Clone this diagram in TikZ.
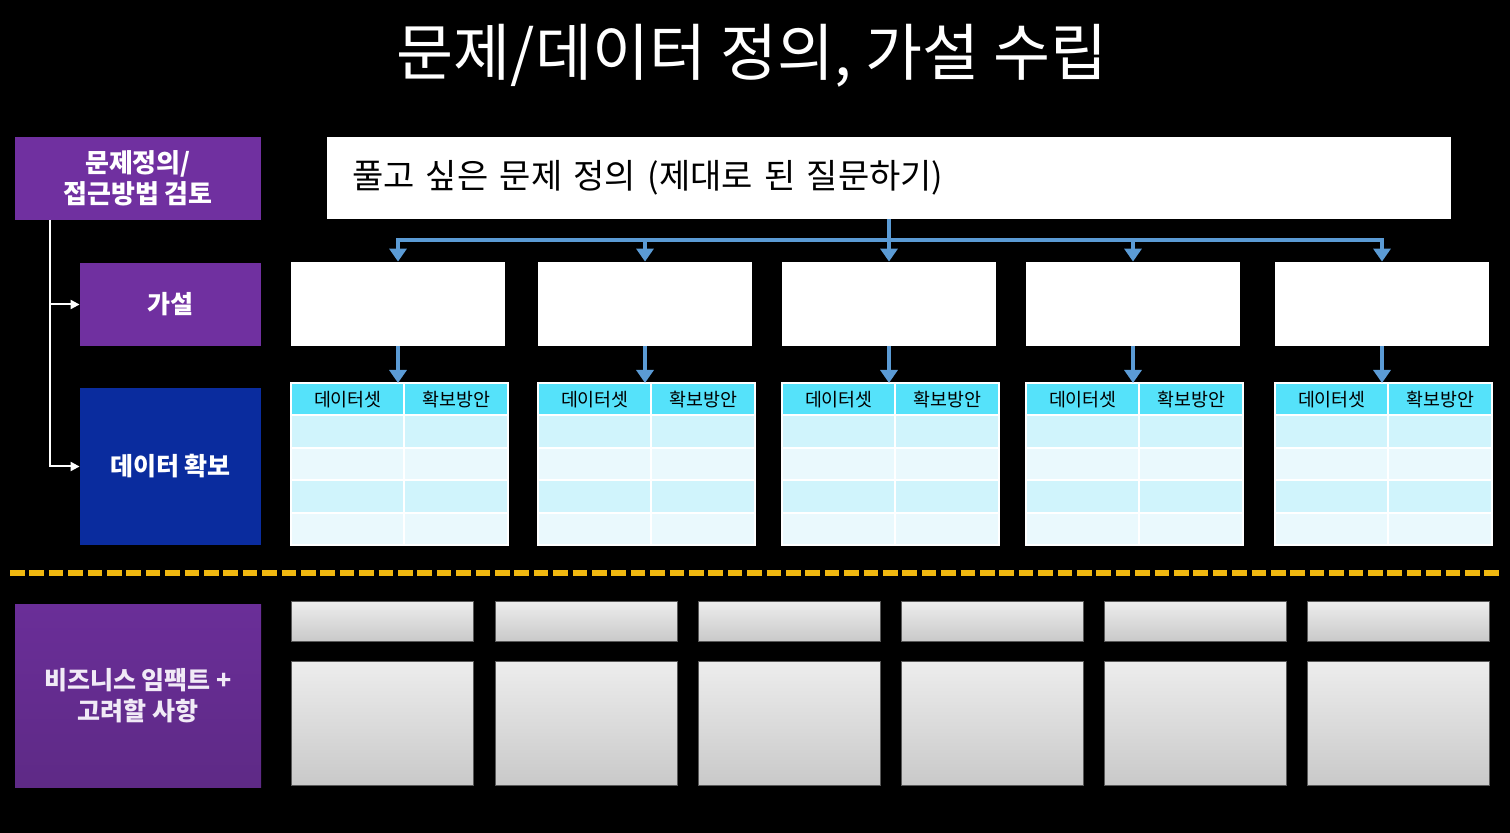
\documentclass[tikz,border=0pt]{standalone}
\usepackage{fontspec}
\setmainfont{Noto Sans CJK KR}
\usetikzlibrary{arrows.meta,calc}
\definecolor{purp}{HTML}{7030A0}
\definecolor{purpdark}{HTML}{5E2A86}
\definecolor{purpmid}{HTML}{6A2E98}
\definecolor{navy}{HTML}{0A2C9E}
\definecolor{cyanhdr}{HTML}{55E2FA}
\definecolor{rowA}{HTML}{D0F4FC}
\definecolor{rowB}{HTML}{EAF9FD}
\definecolor{arrowblue}{HTML}{5B9BD5}
\definecolor{dashyellow}{HTML}{F0B810}
\definecolor{greytop}{HTML}{EDEDED}
\definecolor{greybot}{HTML}{C9C9C9}
\begin{document}
\begin{tikzpicture}[x=0.5pt,y=-0.5pt,
  lbl/.style={rectangle, text=white, font=\bfseries\fontsize{12.5}{15.5}\selectfont, align=center, inner sep=0pt},
  hypbox/.style={rectangle, fill=white, minimum width=107pt, minimum height=42pt, inner sep=0pt},
  hdr/.style={rectangle, fill=cyanhdr, anchor=north west, minimum height=16pt, inner sep=0pt, font=\fontsize{9.2}{11}\selectfont},
  greybox/.style={rectangle, top color=greytop, bottom color=greybot, draw=black!65, line width=0.4pt, anchor=north west, minimum width=91pt, inner sep=0pt},
  bline/.style={draw=arrowblue, line width=2.2pt},
  barrow/.style={draw=arrowblue, line width=2.2pt, -{Triangle[width=8.5pt,length=6.5pt]}},
  warrow/.style={draw=white, line width=1pt, -{Triangle[width=4.5pt,length=4.5pt]}}
]
\useasboundingbox (0,0) rectangle (1510,833);
\fill[black] (0,0) rectangle (1510,833);

% title
\node[text=white, font=\fontsize{31}{37}\selectfont, inner sep=0pt] (title) at (752,56) {문제/데이터 정의, 가설 수립};

% left labels
\node[lbl, fill=purp, minimum width=123pt, minimum height=41.5pt, font=\bfseries\fontsize{13}{15.5}\selectfont] (prob) at (138,178.5) {문제정의/\\접근방법 검토};
\node[lbl, fill=purp, minimum width=90.5pt, minimum height=41.5pt] (hyp) at (170.5,304.5) {가설};
\node[lbl, fill=navy, minimum width=90.5pt, minimum height=78.5pt] (data) at (170.5,466.5) {데이터 확보};
\node[lbl, top color=purpmid, bottom color=purpdark, minimum width=123pt, minimum height=91pt, text=white!90!purp] (biz) at (138,696) {비즈니스 임팩트 +\\고려할 사항};

% white bracket
\coordinate (bx) at (50,220);
\draw[white, line width=1pt] (bx) |- (data.west -| 60,0);
\draw[warrow] (bx |- hyp.west) -- (hyp.west);
\draw[warrow] (bx |- data.west) -- (data.west);

% top problem box
\node[rectangle, fill=white, minimum width=562pt, minimum height=41pt, text width=537pt, inner xsep=12.5pt, align=left, font=\fontsize{17}{21}\selectfont] (top) at (889,178) {풀고 싶은 문제 정의 (제대로 된 질문하기)\vphantom{\rule{0pt}{9pt}}};

% hypothesis boxes and tables
\foreach \i/\x in {1/291,2/538,3/782,4/1026,5/1275} {
  \node[hypbox] (h\i) at ({\x+107},304) {};
  \fill[rowA] (\x,415) rectangle ({\x+217},448);
  \fill[rowB] (\x,448) rectangle ({\x+217},480);
  \fill[rowA] (\x,480) rectangle ({\x+217},513);
  \fill[rowB] (\x,513) rectangle ({\x+217},545);
  \node[hdr, minimum width=56.5pt] (d\i) at (\x,383) {데이터셋};
  \node[hdr, minimum width=52pt] (s\i) at ({\x+113},383) {확보방안};
  \draw[white, line width=0.9pt] ({\x+113},383) -- ({\x+113},545);
  \foreach \yy in {415,448,480,513} {
    \draw[white, line width=0.9pt] (\x,\yy) -- ({\x+217},\yy);
  }
  \draw[white, line width=0.6pt] (\x,383) rectangle ({\x+217},545);
  \draw[barrow] (h\i.south) -- (h\i.south |- d\i.north);
}

% blue distribution
\coordinate (bus) at (889,240);
\draw[bline] (top.south) -- (bus);
\draw[bline, line cap=rect] (h1.north |- bus) -- (h5.north |- bus);
\foreach \i in {1,...,5} {
  \draw[barrow] (h\i.north |- bus) -- (h\i.north);
}

% dashed separator
\coordinate (dl) at (10,573);
\coordinate (dr) at (1500,573);
\draw[dashyellow, line width=2.6pt, dash pattern=on 7.3pt off 2.4pt] (dl) -- (dr);

% bottom grey boxes
\foreach \i/\x in {1/291,2/495,3/698,4/901,5/1104,6/1307} {
  \node[greybox, minimum height=20pt] (gs\i) at (\x,601) {};
  \node[greybox, minimum height=62pt] (gb\i) at (\x,661) {};
}
\end{tikzpicture}
\end{document}
